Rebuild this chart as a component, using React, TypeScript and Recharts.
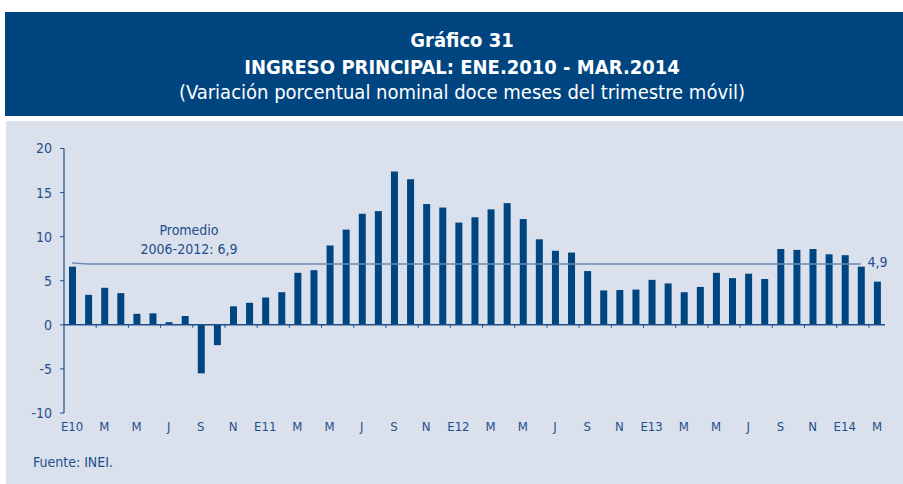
import { ComposedChart, Bar, Line, XAxis, YAxis, ReferenceLine, LabelList } from "recharts";

// meses: ene.2010 - mar.2014
const meses = [
  "E10", "F", "M", "A", "M", "J", "J", "A", "S", "O", "N", "D",
  "E11", "F", "M", "A", "M", "J", "J", "A", "S", "O", "N", "D",
  "E12", "F", "M", "A", "M", "J", "J", "A", "S", "O", "N", "D",
  "E13", "F", "M", "A", "M", "J", "J", "A", "S", "O", "N", "D",
  "E14", "F", "M",
];

const variacion = [
  6.6, 3.4, 4.2, 3.6, 1.25, 1.3, 0.3, 1.0, -5.5, -2.3, 2.1, 2.5,
  3.1, 3.7, 5.9, 6.2, 9.0, 10.8, 12.6, 12.9, 17.4, 16.5, 13.7, 13.3,
  11.6, 12.2, 13.1, 13.8, 12.0, 9.7, 8.4, 8.2, 6.1, 3.9, 3.95, 4.0,
  5.1, 4.7, 3.7, 4.3, 5.9, 5.3, 5.8, 5.2, 8.6, 8.5, 8.6, 8.0,
  7.9, 6.6, 4.9,
];

// promedio 2006-2012 (sin valor en el ultimo mes)
const promedio = [7.0, ...Array(49).fill(6.9), null];

const yTicks = [-10, -5, 0, 5, 10, 15, 20];

const data = meses.map((mes, i) => ({
  mes,
  variacion: variacion[i],
  promedio: promedio[i],
}));

const AZUL = "#004580";
const TEXTO = "#1d4f8b";
const FONT = "'Liberation Sans Narrow', 'DejaVu Sans Condensed', sans-serif";

const TOP = 148.5;
const BOTTOM = 413;
const LEFT = 64;
const RIGHT = 885;
const X_AXIS_H = 30;
const ZERO_Y = TOP + ((BOTTOM - TOP) * 20) / 30;
const BAND = (RIGHT - LEFT) / meses.length;

function MesTick(props: any) {
  const { x, payload, index } = props;
  return (
    <g>
      {index > 0 && (
        <line x1={x - BAND / 2} x2={x - BAND / 2} y1={ZERO_Y} y2={ZERO_Y + 3} stroke={TEXTO} strokeWidth={1} />
      )}
      <text x={x} y={BOTTOM + 18} textAnchor="middle" fill={TEXTO} fontSize={13} fontFamily={FONT}>
        {payload.value}
      </text>
    </g>
  );
}

function UltimoLabel(props: any) {
  const { x, y, width, index, value } = props;
  if (index !== meses.length - 1) return null;
  return (
    <text x={x + width / 2} y={y - 15} textAnchor="middle" fill={TEXTO} fontSize={14} fontFamily={FONT}>
      {String(value).replace(".", ",")}
    </text>
  );
}

export default function App() {
  return (
    <div style={{ position: "absolute", left: 0, top: 0, width: 903, height: 484, background: "#fff", fontFamily: FONT }}>
      <div
        style={{
          position: "absolute",
          left: 5,
          top: 12,
          width: 898,
          height: 104,
          background: AZUL,
          color: "#fff",
          textAlign: "center",
        }}
      >
        <div style={{ position: "absolute", left: 0, width: 914, top: 17, fontSize: 20, fontWeight: "bold", lineHeight: "22px" }}>
          Gráfico 31
        </div>
        <div style={{ position: "absolute", left: 0, width: 914, top: 44, fontSize: 20, fontWeight: "bold", lineHeight: "22px" }}>
          INGRESO PRINCIPAL: ENE.2010 - MAR.2014
        </div>
        <div style={{ position: "absolute", left: 0, width: 914, top: 69, fontSize: 20, lineHeight: "22px" }}>
          (Variación porcentual nominal doce meses del trimestre móvil)
        </div>
      </div>
      <div style={{ position: "absolute", left: 6, top: 121, width: 897, height: 363, background: "#dbe0ed" }} />
      <div style={{ position: "absolute", left: 0, top: 0 }}>
        <ComposedChart
          width={903}
          height={484}
          data={data}
          margin={{ top: TOP, bottom: 484 - BOTTOM - X_AXIS_H, left: LEFT - 44, right: 903 - RIGHT }}
          barSize={7}
        >
          <XAxis dataKey="mes" height={X_AXIS_H} interval={1} axisLine={false} tickLine={false} tick={<MesTick />} />
          <YAxis
            width={44}
            domain={[-10, 20]}
            ticks={yTicks}
            interval={0}
            axisLine={{ stroke: TEXTO, strokeWidth: 1.2 }}
            tickLine={{ stroke: TEXTO }}
            tickSize={4}
            tickMargin={8}
            tick={{ fill: TEXTO, fontSize: 14, fontFamily: FONT }}
          />
          <ReferenceLine y={0} stroke={TEXTO} strokeWidth={1.5} />
          <Bar dataKey="variacion" fill={AZUL} isAnimationActive={false}>
            <LabelList dataKey="variacion" content={<UltimoLabel />} />
          </Bar>
          <Line
            dataKey="promedio"
            type="linear"
            stroke="#6e89b1"
            strokeWidth={1.5}
            dot={false}
            activeDot={false}
            isAnimationActive={false}
          />
        </ComposedChart>
      </div>
      <div style={{ position: "absolute", left: 130, top: 221, width: 118, textAlign: "center", color: TEXTO, fontSize: 14, lineHeight: "19px" }}>
        Promedio
        <br />
        2006-2012: 6,9
      </div>
      <div style={{ position: "absolute", left: 33, top: 454, color: TEXTO, fontSize: 14 }}>Fuente: INEI.</div>
    </div>
  );
}
